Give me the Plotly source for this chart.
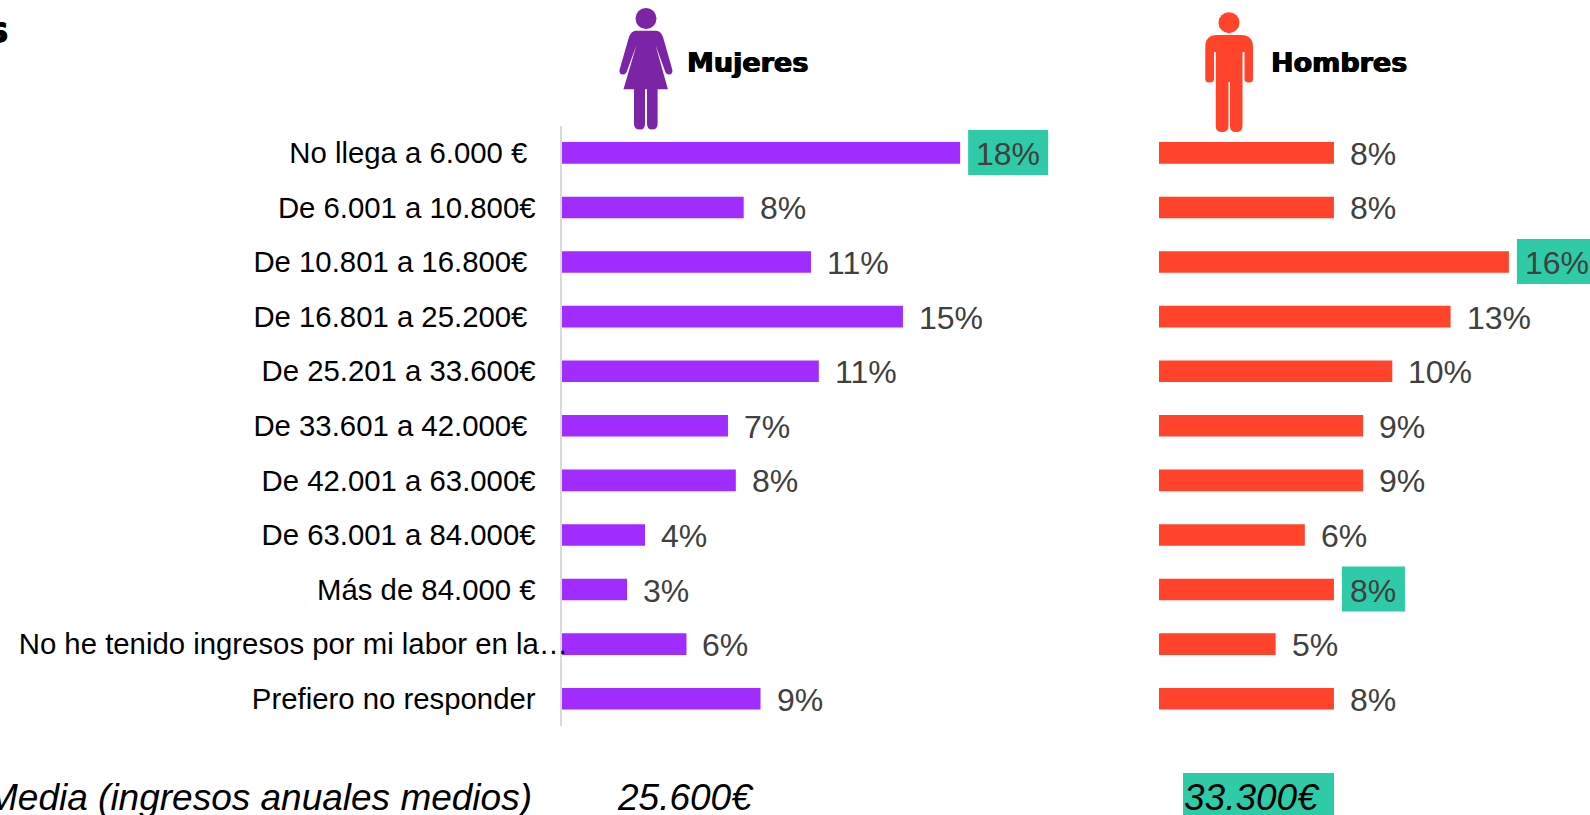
import re
import plotly.graph_objects as go

W, H = 1590, 815
categories = ["No llega a 6.000 €", "De 6.001 a 10.800€", "De 10.801 a 16.800€", "De 16.801 a 25.200€",
              "De 25.201 a 33.600€", "De 33.601 a 42.000€", "De 42.001 a 63.000€", "De 63.001 a 84.000€",
              "Más de 84.000 €", "No he tenido ingresos por mi labor en la…", "Prefiero no responder"]
label_pad = [5, 4, 5, 5, 4, 5, 4, 4, 4, 0, 4]
mujeres = [17.75, 8.1, 11.1, 15.2, 11.45, 7.4, 7.75, 3.7, 2.9, 5.55, 8.85]
hombres = [7.8, 7.8, 15.6, 13.0, 10.4, 9.1, 9.1, 6.5, 7.8, 5.2, 7.8]
mujeres_txt = ["18%", "8%", "11%", "15%", "11%", "7%", "8%", "4%", "3%", "6%", "9%"]
hombres_txt = ["8%", "8%", "16%", "13%", "10%", "9%", "9%", "6%", "8%", "5%", "8%"]
mujeres_hl = [0]
hombres_hl = [2, 8]
media_label = "Media (ingresos anuales medios)"
media_m, media_h = "25.600€", "33.300€"

PURPLE, RED, GREEN, DARK_PURPLE = "#A02CFF", "#FF442B", "#2FCBA8", "#7B24A6"
SANS = "Liberation Sans"
PX_PER_PCT = 22.43
X1A, X1B, X2A, X2B = 562, 1120, 1159, 1590
YA, YB = 125.6, 726
HEAVY = "0.6px 0 0 #000, -0.6px 0 0 #000"


def px(x):
    return x / W


def py(y):
    return 1 - y / H


def path(s):
    toks = re.findall(r"[A-Z]|[-\d.]+", s)
    out, i = [], 0
    for t in toks:
        if t.isalpha():
            out.append(t)
        else:
            out.append(f"{px(float(t)) if i % 2 == 0 else py(float(t)):.5f}")
            i += 1
    return " ".join(out)


MAN = ("M1217 35 L1241 35 Q1253 35 1253 47 L1253 79 Q1253 82.5 1249 82.5 Q1244.5 82.5 1244.5 79 L1244.5 52 "
       "L1242.5 52 L1242.5 126 Q1242.5 132 1236 132 Q1230 132 1230 126 L1230 82 L1228.5 82 L1228.5 126 "
       "Q1228.5 132 1222 132 Q1215.8 132 1215.8 126 L1215.8 52 L1214 52 L1214 79 Q1214 82.5 1209.5 82.5 "
       "Q1205.3 82.5 1205.3 79 L1205.3 47 Q1205.3 35 1217 35 Z")
WOMAN = ("M636 30.7 L656 30.7 Q661 31 663 37 L672.4 70 Q672.8 74.5 669 74.5 Q666 74.5 665 71 L655.5 45 "
         "L667.9 89.3 L657.6 89.3 L657.6 124 Q657.6 129.5 652 129.5 Q647 129.5 647 124 L647 89.3 L645 89.3 "
         "L645 124 Q645 129.5 640 129.5 Q634 129.5 634 124 L634 89.3 L623.5 89.3 L636.5 45 L627 71 "
         "Q626 74.5 623 74.5 Q619 74.5 619.5 70 L629 37 Q631 31 636 30.7 Z")

fig = go.Figure()
fig.add_bar(x=mujeres, y=categories, orientation="h", marker=dict(color=PURPLE, line_width=0), xaxis="x", yaxis="y")
fig.add_bar(x=hombres, y=categories, orientation="h", marker=dict(color=RED, line_width=0), xaxis="x2", yaxis="y2")

shapes, annotations = [], []
for vals, txts, hl, xr, yr in [(mujeres, mujeres_txt, mujeres_hl, "x", "y"), (hombres, hombres_txt, hombres_hl, "x2", "y2")]:
    for i, (v, t, c) in enumerate(zip(vals, txts, categories)):
        if i in hl:
            w = 80 if len(t) == 3 else 63
            shapes.append(dict(type="rect", xref=xr, yref=yr, xsizemode="pixel", ysizemode="pixel",
                               xanchor=v, yanchor=c, x0=8, x1=8 + w, y0=-22, y1=23,
                               fillcolor=GREEN, line_width=0, layer="below"))
        annotations.append(dict(x=v, y=c, xref=xr, yref=yr, text=t, showarrow=False, xanchor="left", yanchor="middle",
                                xshift=14, yshift=-1, font=dict(family=SANS, size=32, color="#404040")))

for s, col in [(WOMAN, DARK_PURPLE), (MAN, RED)]:
    shapes.append(dict(type="path", xref="paper", yref="paper", path=path(s), fillcolor=col, line_width=0))
for cx, cy, r, col in [(646, 18.5, 10.5, DARK_PURPLE), (1229, 22.7, 10.5, RED)]:
    shapes.append(dict(type="circle", xref="paper", yref="paper", x0=px(cx - r), x1=px(cx + r), y0=py(cy + r), y1=py(cy - r),
                       fillcolor=col, line_width=0))
shapes.append(dict(type="rect", xref="paper", yref="paper", x0=px(1183), x1=px(1334), y0=py(815), y1=py(773),
                   fillcolor=GREEN, line_width=0, layer="below"))


def note(text, x, y, anchor="left", **font):
    annotations.append(dict(text=text, x=px(x), y=py(y), xref="paper", yref="paper", showarrow=False,
                            xanchor=anchor, yanchor="middle", font=dict(color="black", **font)))


note("Mujeres", 685, 62, family="DejaVu Sans", size=27, weight="bold", shadow=HEAVY)
note("Hombres", 1269, 62, family="DejaVu Sans", size=27, weight="bold", shadow=HEAVY)
note("s", 10, 29, "right", family="DejaVu Sans", size=36, weight="bold", shadow=HEAVY)
note(media_label, 534, 797, "right", family=SANS, size=37, style="italic")
note(media_m, 615, 797, family=SANS, size=37, style="italic")
note(media_h, 1182, 797, family=SANS, size=37, style="italic")

ticktext = [c + "\u00a0" * n for c, n in zip(categories, label_pad)]
fig.update_layout(
    width=W, height=H, margin=dict(l=0, r=0, t=0, b=0), showlegend=False, bargap=0.604,
    paper_bgcolor="white", plot_bgcolor="white", shapes=shapes, annotations=annotations,
    xaxis=dict(domain=[px(X1A), px(X1B)], range=[0, (X1B - X1A) / PX_PER_PCT], visible=False),
    xaxis2=dict(domain=[px(X2A), px(X2B)], range=[0, (X2B - X2A) / PX_PER_PCT], visible=False),
    yaxis=dict(domain=[py(YB), py(YA)], anchor="x", autorange="reversed", type="category", categoryorder="array",
               categoryarray=categories, tickmode="array", tickvals=categories, ticktext=ticktext,
               tickfont=dict(family=SANS, size=29.33, color="black"), ticks="", showline=True, linecolor="#D9D9D9",
               linewidth=2, showgrid=False, zeroline=False, ticklabelstandoff=-14, automargin=False),
    yaxis2=dict(domain=[py(YB), py(YA)], anchor="x2", autorange="reversed", type="category", categoryorder="array",
                categoryarray=categories, showticklabels=False, ticks="", showline=False, showgrid=False, zeroline=False),
)
fig.write_html("out.html", config=dict(displayModeBar=False),
               post_script="document.body.style.margin='0';document.body.style.overflow='hidden';")
